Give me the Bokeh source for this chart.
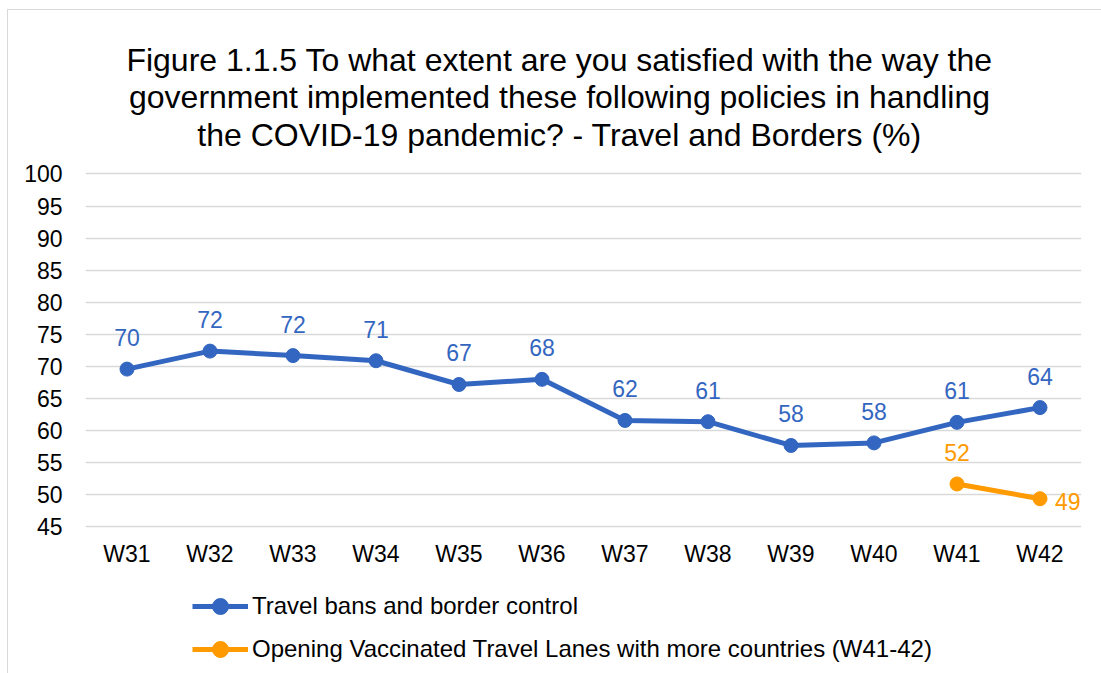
from bokeh.plotting import figure
from bokeh.layouts import column
from bokeh.models import ColumnDataSource, Range1d, LabelSet, Legend, LegendItem, FixedTicker, Label
from bokeh.core.properties import value
from bokeh.embed import file_html
from bokeh.resources import INLINE

# ---- data ----
weeks = ["W31", "W32", "W33", "W34", "W35", "W36", "W37", "W38", "W39", "W40", "W41", "W42"]
travel_bans = [69.6, 72.4, 71.7, 70.9, 67.2, 68.0, 61.6, 61.4, 57.7, 58.1, 61.3, 63.6]
travel_bans_labels = ["70", "72", "72", "71", "67", "68", "62", "61", "58", "58", "61", "64"]
vtl_weeks = ["W41", "W42"]
vtl = [51.7, 49.4]
vtl_labels = ["52", "49"]
y_ticks = [45, 50, 55, 60, 65, 70, 75, 80, 85, 90, 95, 100]

title_lines = ["Figure 1.1.5 To what extent are you satisfied with the way the",
               "government implemented these following policies in handling",
               "the COVID-19 pandemic? - Travel and Borders (%)"]
series_names = ["Travel bans and border control",
                "Opening Vaccinated Travel Lanes with more countries (W41-42)"]

BLUE = "#3366C0"
ORANGE = "#FF9A00"
FONT = "Liberation Sans"
FS = "23px"

# the frame covers the full chart height; the title and legend sit inside it
p = figure(x_range=weeks, y_range=Range1d(22.17, 125.47),
           frame_width=996, frame_height=663,
           min_border_left=77, min_border_right=20, min_border_top=0, min_border_bottom=0,
           output_backend="svg", toolbar_location=None)

# title: three centred lines (screen units, measured from frame bottom-left)
title_baselines = [59, 96.5, 134]
for line, base in zip(title_lines, title_baselines):
    p.add_layout(Label(x=474, y=673 - base, x_units="screen", y_units="screen", text=line,
                       text_align="center", text_baseline="alphabetic", text_font=FONT,
                       text_font_size="32px", text_color="#000000"))

p.outline_line_color = None
p.xgrid.grid_line_color = None
p.ygrid.grid_line_color = "#D9D9D9"
p.ygrid.grid_line_width = 1.5
p.yaxis.ticker = FixedTicker(ticks=y_ticks)
p.xaxis.fixed_location = 45

for ax in (p.xaxis, p.yaxis):
    ax.axis_line_color = None
    ax.major_tick_line_color = None
    ax.minor_tick_line_color = None
    ax.major_label_text_font = FONT
    ax.major_label_text_font_size = FS
    ax.major_label_text_color = "#000000"
p.yaxis.major_label_standoff = 17
p.xaxis.major_label_standoff = 8

src_a = ColumnDataSource(dict(x=weeks, y=travel_bans, lab=travel_bans_labels))
src_b = ColumnDataSource(dict(x=vtl_weeks, y=vtl, lab=vtl_labels))
src_b1 = ColumnDataSource(dict(x=vtl_weeks[:1], y=vtl[:1], lab=vtl_labels[:1]))
src_b2 = ColumnDataSource(dict(x=vtl_weeks[1:], y=vtl[1:], lab=vtl_labels[1:]))

la = p.line("x", "y", source=src_a, line_color=BLUE, line_width=5)
ma = p.scatter("x", "y", source=src_a, size=14, fill_color=BLUE, line_color=BLUE)
lb = p.line("x", "y", source=src_b, line_color=ORANGE, line_width=5)
mb = p.scatter("x", "y", source=src_b, size=14, fill_color=ORANGE, line_color=ORANGE)

p.add_layout(LabelSet(x="x", y="y", text="lab", source=src_a, text_align="center",
                      text_baseline="alphabetic", y_offset=23, text_font=value(FONT),
                      text_font_size=value(FS), text_color=BLUE))
p.add_layout(LabelSet(x="x", y="y", text="lab", source=src_b1, text_align="center",
                      text_baseline="alphabetic", y_offset=23, text_font=value(FONT),
                      text_font_size=value(FS), text_color=ORANGE))
p.add_layout(LabelSet(x="x", y="y", text="lab", source=src_b2, text_align="left",
                      text_baseline="middle", x_offset=15, y_offset=-3, text_font=value(FONT),
                      text_font_size=value(FS), text_color=ORANGE))

legend = Legend(items=[
    LegendItem(label=series_names[0], renderers=[la, ma]),
    LegendItem(label=series_names[1], renderers=[lb, mb]),
], orientation="vertical", location=(107, 4))
legend.label_text_font = FONT
legend.label_text_font_size = "24px"
legend.label_text_color = "#000000"
legend.border_line_color = None
legend.background_fill_alpha = 0
legend.glyph_width = 56
legend.glyph_height = 40
legend.label_height = 40
legend.label_standoff = 4
legend.spacing = 3
legend.margin = 0
legend.padding = 0
p.add_layout(legend)

# light chart-area border on the left and top, as in the reference
page = column(p, margin=(9, 0, 0, 7),
              styles={"border-left": "1px solid #D9D9D9", "border-top": "1px solid #D9D9D9"})

open("out.html", "w").write(file_html(page, INLINE))
